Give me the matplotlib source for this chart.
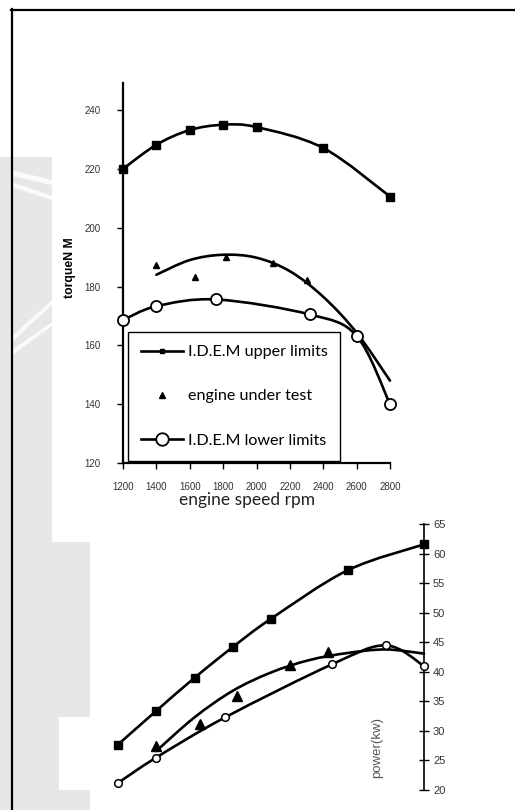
import matplotlib
matplotlib.use("Agg")
import matplotlib.pyplot as plt
from matplotlib.path import Path
from matplotlib.patches import PathPatch, Rectangle, Polygon
from matplotlib.lines import Line2D

# engine speed (rpm) for each series
rpm_upper = [1200, 1400, 1600, 1800, 2000, 2400, 2800]
rpm_test = [1400, 1630, 1820, 2100, 2300]
rpm_trend = [1400, 1600, 1800, 2000, 2200, 2400, 2600, 2800]
rpm_lower = [1200, 1400, 1760, 2320, 2600, 2800]

# torque (N M)
torque_upper = [220.0, 228.2, 233.2, 235.0, 234.2, 227.1, 210.6]
torque_test = [187.3, 183.3, 190.2, 188.1, 182.1]
torque_trend = [184.0, 189.0, 190.8, 189.8, 185.2, 176.5, 164.3, 148.0]
torque_lower = [168.6, 173.3, 175.6, 170.5, 163.2, 140.0]

# power (kw)
power_upper = [27.7, 33.4, 39.0, 44.2, 49.0, 57.2, 61.6]
power_test = [27.4, 31.1, 36.0, 41.1, 43.4]
power_trend = [26.6, 32.3, 36.8, 39.9, 42.0, 43.2, 43.8, 43.1]
power_lower = [21.2, 25.5, 32.3, 41.3, 44.5, 41.0]

torque_ticks = [120, 140, 160, 180, 200, 220, 240]
rpm_ticks = [1200, 1400, 1600, 1800, 2000, 2200, 2400, 2600, 2800]
power_ticks = [20, 25, 30, 35, 40, 45, 50, 55, 60, 65]

legend_labels = ["I.D.E.M upper limits", "engine under test", "I.D.E.M lower limits"]

W, H = 515, 810
TICK_FONT = "Liberation Sans"
TEXT_FONT = "Lato"


def fx(px):
    return px / W


def fy(py):
    return 1 - py / H


def smooth_path(x, y):
    # excel-style smoothed line: cubic bezier with catmull-rom control points
    pts = list(zip(x, y))
    verts = [pts[0]]
    codes = [Path.MOVETO]
    n = len(pts)
    for i in range(n - 1):
        p0 = pts[i - 1] if i > 0 else pts[i]
        p1 = pts[i]
        p2 = pts[i + 1]
        p3 = pts[i + 2] if i + 2 < n else pts[i + 1]
        c1 = (p1[0] + (p2[0] - p0[0]) / 6, p1[1] + (p2[1] - p0[1]) / 6)
        c2 = (p2[0] - (p3[0] - p1[0]) / 6, p2[1] - (p3[1] - p1[1]) / 6)
        verts += [c1, c2, p2]
        codes += [Path.CURVE4] * 3
    return Path(verts, codes)


def draw_curve(ax, x, y, lw=1.9):
    ax.add_patch(PathPatch(smooth_path(x, y), fill=False, lw=lw,
                           edgecolor="black", capstyle="round",
                           joinstyle="round", clip_on=False, zorder=3))


fig = plt.figure(figsize=(W / 100, H / 100), dpi=100)
fig.patch.set_facecolor("white")

# light grey background strips on the left edge
gray = "#e7e7e7"
for (x0, y0, x1, y1) in [(0, 157, 52, 810), (52, 542, 90, 717),
                         (52, 717, 59, 790), (52, 790, 90, 810)]:
    fig.add_artist(Rectangle((fx(x0), fy(y1)), fx(x1 - x0), (y1 - y0) / H,
                             transform=fig.transFigure, facecolor=gray,
                             edgecolor="none", zorder=0))
for poly in [[(12, 170), (52, 180), (52, 185), (12, 176)],
             [(12, 182), (52, 196), (52, 200), (12, 187)],
             [(12, 336), (52, 300), (52, 305), (12, 342)],
             [(12, 350), (52, 322), (52, 326), (12, 355)]]:
    fig.add_artist(Polygon([(fx(a), fy(b)) for a, b in poly],
                           transform=fig.transFigure, facecolor="white",
                           edgecolor="none", alpha=0.8, zorder=0))

# outer frame
fig.add_artist(Line2D([fx(11), fx(515)], [fy(10), fy(10)],
                      transform=fig.transFigure, color="black", lw=1.6))
fig.add_artist(Line2D([fx(12), fx(12)], [fy(9), fy(810)],
                      transform=fig.transFigure, color="black", lw=1.6))

# ---- torque vs engine speed ----
ax1 = fig.add_axes([fx(123), fy(463), (390 - 123) / W, (463 - 83) / H])
ax1.set_xlim(1200, 2800)
ax1.set_ylim(120, 249.2)
ax1.patch.set_alpha(0)
for side in ("top", "right"):
    ax1.spines[side].set_visible(False)
for side in ("left", "bottom"):
    ax1.spines[side].set_linewidth(1.6)

draw_curve(ax1, rpm_upper, torque_upper)
draw_curve(ax1, rpm_trend, torque_trend)
draw_curve(ax1, rpm_lower, torque_lower)
ax1.plot(rpm_upper, torque_upper, ls="none", marker="s", ms=5.5,
         color="black", clip_on=False, zorder=4)
ax1.plot(rpm_test, torque_test, ls="none", marker="^", ms=5,
         color="black", clip_on=False, zorder=4)
ax1.plot(rpm_lower, torque_lower, ls="none", marker="o", ms=8,
         mfc="white", mec="black", mew=1.3, clip_on=False, zorder=5)

ax1.set_yticks(torque_ticks)
ax1.set_xticks(rpm_ticks)
ax1.tick_params(axis="y", direction="out", length=4, width=1, pad=12,
                labelsize=7, labelcolor="#333333")
ax1.tick_params(axis="x", direction="out", length=4, width=1, pad=10,
                labelsize=7, labelcolor="#333333")
for lab in ax1.get_xticklabels() + ax1.get_yticklabels():
    lab.set_fontfamily(TICK_FONT)

fig.text(fx(70), fy(268), "torqueN M", rotation=90, ha="center", va="center",
         fontsize=8.8, fontweight="bold", family=TICK_FONT)
fig.text(fx(247), fy(500), "engine speed rpm", ha="center", va="center",
         fontsize=12.5, family=TEXT_FONT, color="#222222")

handles = [
    Line2D([], [], color="black", lw=1.9, marker="s", ms=3.5),
    Line2D([], [], ls="none", color="black", marker="^", ms=4),
    Line2D([], [], color="black", lw=1.9, marker="o", ms=9,
           mfc="white", mec="black", mew=1.3),
]
leg = fig.legend(handles, legend_labels, loc="upper left",
                 bbox_to_anchor=(fx(128), fy(332)), borderaxespad=0,
                 frameon=True, fancybox=False, edgecolor="black",
                 framealpha=1, prop={"family": TEXT_FONT, "size": 11.6},
                 handlelength=2.6, handletextpad=0.3, labelspacing=1.86,
                 borderpad=0.8)
leg.get_frame().set_linewidth(1.0)
leg.set_zorder(2)

# ---- power vs engine speed ----
ax2 = fig.add_axes([fx(118), fy(790), (424 - 118) / W, (790 - 524.3) / H])
ax2.set_xlim(1200, 2800)
ax2.set_ylim(20, 65)
ax2.patch.set_alpha(0)
for side in ("top", "left", "bottom"):
    ax2.spines[side].set_visible(False)
ax2.spines["right"].set_linewidth(1.2)
ax2.set_xticks([])
ax2.yaxis.tick_right()
ax2.set_yticks(power_ticks)
ax2.tick_params(axis="y", direction="inout", length=7, width=1, pad=3,
                labelsize=8, labelcolor="#333333")
for lab in ax2.get_yticklabels():
    lab.set_fontfamily(TICK_FONT)

draw_curve(ax2, rpm_upper, power_upper)
draw_curve(ax2, rpm_trend, power_trend)
draw_curve(ax2, rpm_lower, power_lower)
ax2.plot(rpm_upper, power_upper, ls="none", marker="s", ms=6,
         color="black", clip_on=False, zorder=4)
ax2.plot(rpm_test, power_test, ls="none", marker="^", ms=6.5,
         color="black", clip_on=False, zorder=4)
ax2.plot(rpm_lower, power_lower, ls="none", marker="o", ms=5.5,
         mfc="white", mec="black", mew=1.1, clip_on=False, zorder=5)

fig.text(fx(377), fy(747), "power(kw)", rotation=90, ha="center", va="center",
         fontsize=9.5, family=TICK_FONT, color="#555555")

fig.savefig("out.png", dpi=100)
